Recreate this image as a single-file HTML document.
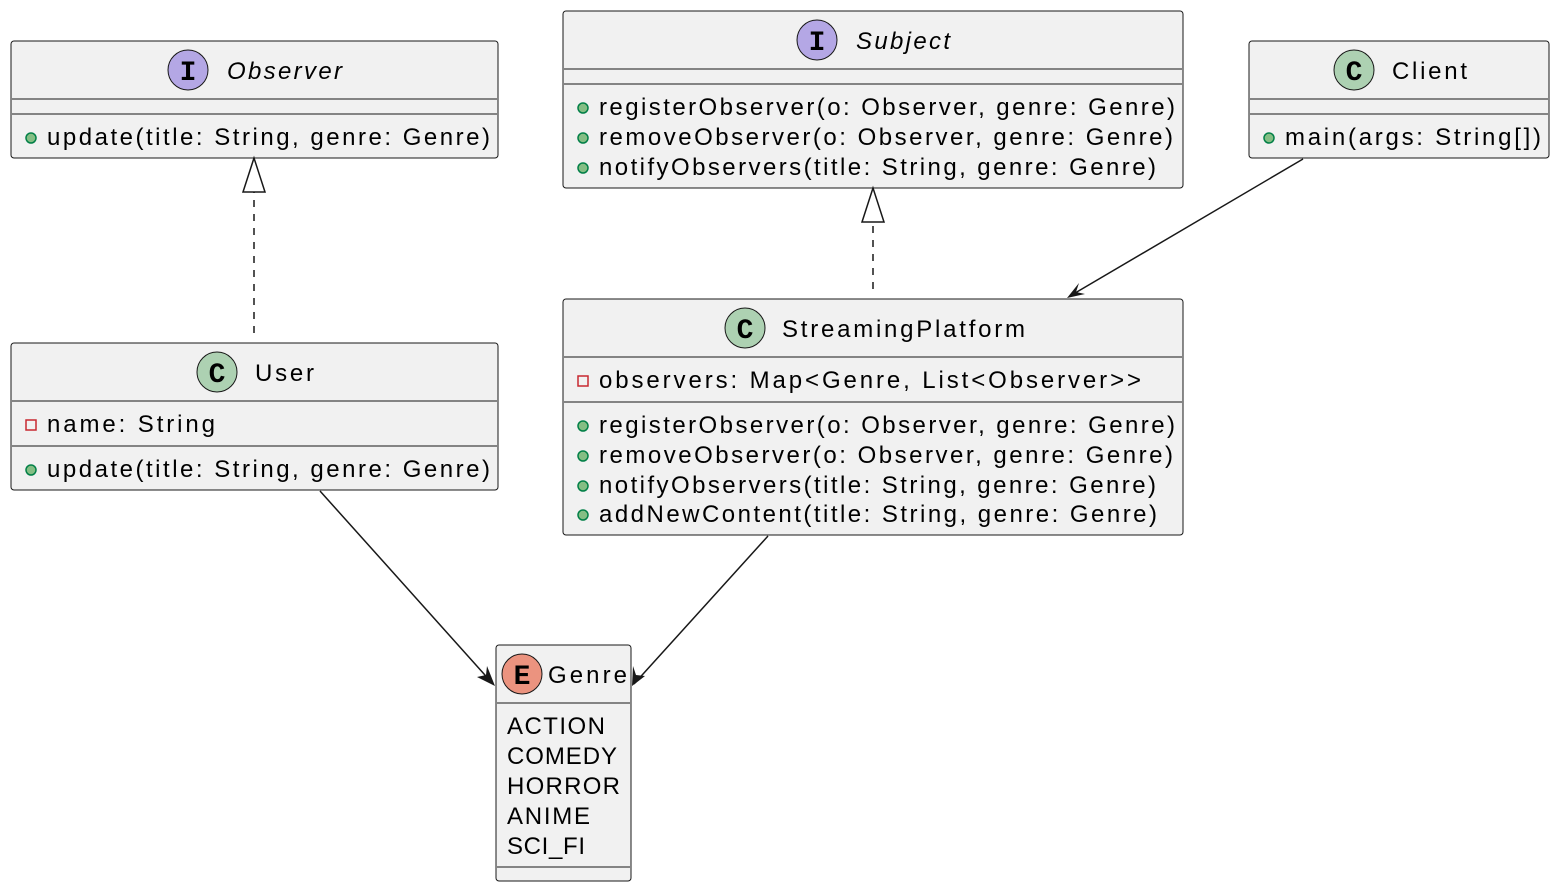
<!DOCTYPE html>
<html><head><meta charset="utf-8"><style>
html,body{margin:0;padding:0;background:#fff;}
svg{display:block;}
text{font-family:"Liberation Sans",sans-serif;font-size:24px;fill:#000;}
.ic{font-family:"Liberation Mono",monospace;font-weight:bold;font-size:28px;}
</style></head><body>
<svg width="1560" height="892" viewBox="0 0 1560 892" xmlns="http://www.w3.org/2000/svg">
<defs>
<g id="pub"><circle r="5" fill="#84be84" stroke="#038048" stroke-width="1.5"/></g>
<g id="priv"><rect x="-5" y="-5" width="10" height="10" fill="none" stroke="#c82930" stroke-width="1.5"/></g>
</defs>
<g fill="#f1f1f1" stroke="#181818" stroke-width="1">
<rect x="11" y="41" width="487" height="117" rx="3"/>
<rect x="563" y="11" width="620" height="177" rx="3"/>
<rect x="1249" y="41" width="300" height="117" rx="3"/>
<rect x="11" y="343" width="487" height="147" rx="3"/>
<rect x="563" y="299" width="620" height="236" rx="3"/>
<rect x="496" y="645" width="135" height="236" rx="3"/>
</g>
<g stroke="#181818" stroke-width="1">
<line x1="12" y1="99" x2="497" y2="99"/><line x1="12" y1="114" x2="497" y2="114"/>
<line x1="564" y1="69" x2="1182" y2="69"/><line x1="564" y1="84" x2="1182" y2="84"/>
<line x1="1250" y1="99" x2="1548" y2="99"/><line x1="1250" y1="114" x2="1548" y2="114"/>
<line x1="12" y1="401" x2="497" y2="401"/><line x1="12" y1="446" x2="497" y2="446"/>
<line x1="564" y1="357" x2="1182" y2="357"/><line x1="564" y1="402" x2="1182" y2="402"/>
<line x1="497" y1="703" x2="630" y2="703"/><line x1="497" y1="867" x2="630" y2="867"/>
</g>
<g stroke="#181818" stroke-width="1">
<circle cx="188" cy="70" r="20" fill="#b4a7e5"/>
<circle cx="817" cy="40" r="20" fill="#b4a7e5"/>
<circle cx="1354" cy="70" r="20" fill="#add1b2"/>
<circle cx="217" cy="372" r="20" fill="#add1b2"/>
<circle cx="745" cy="328" r="20" fill="#add1b2"/>
<circle cx="522" cy="674" r="20" fill="#eb937f"/>
</g>
<text class="ic" x="188" y="80" text-anchor="middle">I</text>
<text class="ic" x="817" y="50" text-anchor="middle">I</text>
<text class="ic" x="1354" y="80" text-anchor="middle">C</text>
<text class="ic" x="217" y="382" text-anchor="middle">C</text>
<text class="ic" x="745" y="338" text-anchor="middle">C</text>
<text class="ic" x="522" y="684" text-anchor="middle">E</text>
<text x="227" y="79" font-style="italic" textLength="115">Observer</text>
<text x="856" y="49" font-style="italic" textLength="94">Subject</text>
<text x="1392" y="79" textLength="75">Client</text>
<text x="255" y="381" textLength="59">User</text>
<text x="782" y="337" textLength="243">StreamingPlatform</text>
<text x="548" y="683" textLength="79">Genre</text>
<use href="#pub" x="31" y="138"/><text x="47" y="145" textLength="443">update(title: String, genre: Genre)</text>
<use href="#pub" x="583" y="108"/><text x="599" y="115" textLength="576">registerObserver(o: Observer, genre: Genre)</text>
<use href="#pub" x="583" y="138"/><text x="599" y="145" textLength="574">removeObserver(o: Observer, genre: Genre)</text>
<use href="#pub" x="583" y="168"/><text x="599" y="175" textLength="557">notifyObservers(title: String, genre: Genre)</text>
<use href="#pub" x="1269" y="138"/><text x="1285" y="145" textLength="256">main(args: String[])</text>
<use href="#priv" x="31" y="425"/><text x="47" y="432" textLength="168">name: String</text>
<use href="#pub" x="31" y="470"/><text x="47" y="477" textLength="443">update(title: String, genre: Genre)</text>
<use href="#priv" x="583" y="381"/><text x="599" y="388" textLength="542">observers: Map&lt;Genre, List&lt;Observer&gt;&gt;</text>
<use href="#pub" x="583" y="426"/><text x="599" y="433" textLength="576">registerObserver(o: Observer, genre: Genre)</text>
<use href="#pub" x="583" y="456"/><text x="599" y="463" textLength="574">removeObserver(o: Observer, genre: Genre)</text>
<use href="#pub" x="583" y="486"/><text x="599" y="493" textLength="557">notifyObservers(title: String, genre: Genre)</text>
<use href="#pub" x="583" y="515"/><text x="599" y="522" textLength="558">addNewContent(title: String, genre: Genre)</text>
<text x="507" y="734" textLength="98">ACTION</text>
<text x="507" y="764" textLength="110">COMEDY</text>
<text x="507" y="794" textLength="113">HORROR</text>
<text x="507" y="824" textLength="83">ANIME</text>
<text x="507" y="854" textLength="78">SCI_FI</text>
<g stroke="#181818" stroke-width="1.5" fill="none">
<line x1="254" y1="333" x2="254" y2="192" stroke-dasharray="7,7"/>
<polygon points="254,158 243,192 265,192" fill="#fff"/>
<line x1="873" y1="289" x2="873" y2="222" stroke-dasharray="7,7"/>
<polygon points="873,188 862,222 884,222" fill="#fff"/>
<line x1="1303" y1="159" x2="1070" y2="296"/>
<line x1="320" y1="491" x2="493" y2="684"/>
<line x1="768" y1="536" x2="634" y2="684"/>
</g>
<g fill="#181818">
<polygon points="1067,298 1079,283 1076,292 1085,294"/>
<polygon points="495,686 477,677 486,675 487,666"/>
<polygon points="632,686 633,666 636,675 645,676"/>
</g>
</svg>
</body></html>
